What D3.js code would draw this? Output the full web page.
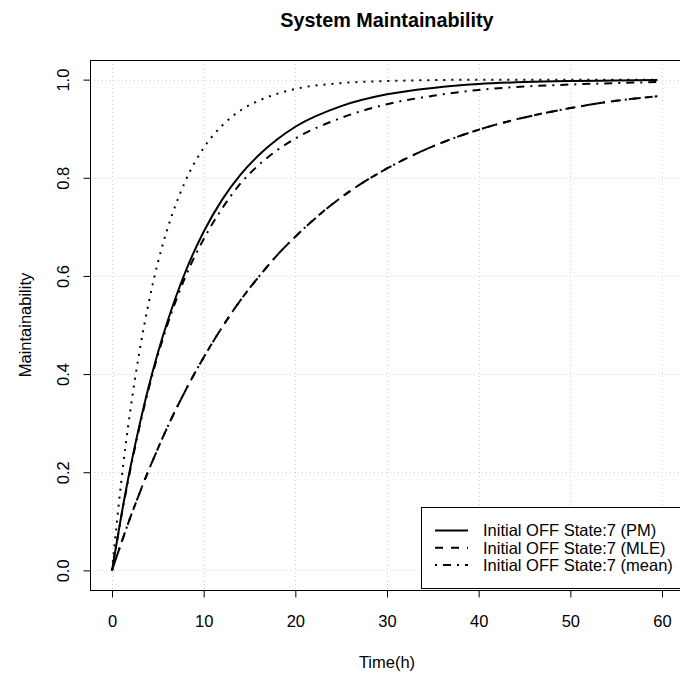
<!DOCTYPE html>
<html>
<head>
<meta charset="utf-8">
<script src="https://cdn.jsdelivr.net/npm/d3@7"></script>
<style>
  html, body { margin: 0; padding: 0; background: #fff; }
  svg { display: block; }
  text { font-family: "Liberation Sans", Arial, Helvetica, sans-serif; fill: #000; }
</style>
</head>
<body>
<svg id="chart" width="680" height="676"></svg>
<script>
// ---- data ----
const times = [0, 1, 2, 3, 4, 5, 6, 8, 10, 12, 14, 16, 18, 20, 25, 30, 35, 40, 45, 50, 55, 59.5];
// upper bound (dotted)
const upperDotted = [0, 0.179, 0.326, 0.446, 0.545, 0.627, 0.693, 0.793, 0.861, 0.906, 0.937, 0.957, 0.971, 0.981, 0.993, 0.997, 0.999, 1.0, 1.0, 1.0, 1.0, 1.0];
// PM (solid)
const pmValues = [0, 0.110, 0.209, 0.296, 0.374, 0.443, 0.504, 0.608, 0.690, 0.755, 0.806, 0.846, 0.878, 0.904, 0.946, 0.970, 0.983, 0.991, 0.995, 0.997, 0.998, 0.999];
// mean, upper curve (dot-dash)
const meanUpper = [0, 0.108, 0.205, 0.292, 0.370, 0.438, 0.498, 0.598, 0.675, 0.737, 0.788, 0.826, 0.856, 0.880, 0.922, 0.950, 0.967, 0.979, 0.986, 0.990, 0.993, 0.995];
// MLE (dashed), lower curve
const mleValues = [0, 0.055, 0.108, 0.157, 0.204, 0.248, 0.290, 0.366, 0.434, 0.495, 0.550, 0.598, 0.642, 0.680, 0.760, 0.819, 0.864, 0.898, 0.923, 0.942, 0.957, 0.966];
// mean, lower curve (dot-dash) overlapping MLE
const meanLower = [0, 0.055, 0.108, 0.157, 0.204, 0.248, 0.290, 0.366, 0.434, 0.495, 0.550, 0.598, 0.642, 0.680, 0.760, 0.819, 0.864, 0.898, 0.923, 0.942, 0.957, 0.966];

const xTicks = [0, 10, 20, 30, 40, 50, 60];
const yTicks = [0, 0.2, 0.4, 0.6, 0.8, 1.0];
const yTickLabels = ["0.0", "0.2", "0.4", "0.6", "0.8", "1.0"];
const legendLabels = ["Initial OFF State:7 (PM)", "Initial OFF State:7 (MLE)", "Initial OFF State:7 (mean)"];
const legendDash = ["none", "8,8", "2,6,8,6"];
const titleText = "System Maintainability";
const xLabel = "Time(h)";
const yLabel = "Maintainability";

// ---- layout ----
const plot = { left: 90, right: 684, top: 60, bottom: 590 };
const fs = 16.5;

const svg = d3.select("#chart");
const x = d3.scaleLinear().domain([-2.4, 62.4]).range([plot.left, plot.right]);
const y = d3.scaleLinear().domain([-0.04, 1.04]).range([plot.bottom, plot.top]);

// grid
const grid = svg.append("g").attr("stroke", "#d3d3d3").attr("stroke-width", 1).attr("stroke-dasharray", "1,3");
grid.selectAll("line.v").data(xTicks).join("line")
  .attr("x1", d => Math.round(x(d)) + 0.5).attr("x2", d => Math.round(x(d)) + 0.5)
  .attr("y1", plot.top).attr("y2", plot.bottom);
grid.selectAll("line.h").data(yTicks).join("line")
  .attr("y1", d => Math.round(y(d)) + 0.5).attr("y2", d => Math.round(y(d)) + 0.5)
  .attr("x1", plot.left).attr("x2", plot.right);

// curves
const series = [
  { values: upperDotted, dash: "2,6" },
  { values: pmValues, dash: "none" },
  { values: meanUpper, dash: "2,6,8,6" },
  { values: mleValues, dash: "8,8" },
  { values: meanLower, dash: "2,6,8,6" }
];
const line = d3.line().x(d => x(d[0])).y(d => y(d[1])).curve(d3.curveMonotoneX);
svg.append("g").selectAll("path").data(series).join("path")
  .attr("d", s => line(times.map((t, i) => [t, s.values[i]])))
  .attr("fill", "none").attr("stroke", "#000").attr("stroke-width", 2)
  .attr("stroke-dasharray", s => s.dash);

// box
svg.append("rect").attr("x", plot.left + 0.5).attr("y", plot.top + 0.5)
  .attr("width", plot.right - plot.left).attr("height", plot.bottom - plot.top)
  .attr("fill", "none").attr("stroke", "#000").attr("stroke-width", 1);

// x axis
const xAxis = d3.axisBottom(x).tickValues(xTicks).tickSize(7).tickSizeOuter(0).tickFormat(d3.format("d"));
const gx = svg.append("g").attr("transform", `translate(0,${plot.bottom + 0.5})`).call(xAxis);
gx.select(".domain").attr("d", `M${x(0)},0H${x(60)}`).attr("stroke", "#000");
gx.selectAll(".tick line").attr("stroke", "#000");
gx.selectAll(".tick text").attr("y", 0).attr("dy", 0)
  .attr("transform", "translate(0,36.5)")
  .style("font-size", fs + "px").attr("font-family", null);

// y axis
const yAxis = d3.axisLeft(y).tickValues(yTicks).tickSize(7).tickSizeOuter(0).tickFormat((d, i) => yTickLabels[i]);
const gy = svg.append("g").attr("transform", `translate(${plot.left + 0.5},0)`).call(yAxis);
gy.select(".domain").attr("d", `M0,${y(0)}V${y(1)}`).attr("stroke", "#000");
gy.selectAll(".tick line").attr("stroke", "#000");
gy.selectAll(".tick text").attr("x", 0).attr("dy", 0)
  .attr("text-anchor", "middle")
  .attr("transform", "translate(-21.5,0) rotate(-90)")
  .style("font-size", fs + "px").attr("font-family", null);

// titles
svg.append("text").attr("x", (plot.left + plot.right) / 2).attr("y", 26.5)
  .attr("text-anchor", "middle").style("font-size", "19.8px").style("font-weight", "bold").text(titleText);
svg.append("text").attr("x", (plot.left + plot.right) / 2).attr("y", 668)
  .attr("text-anchor", "middle").style("font-size", fs + "px").text(xLabel);
svg.append("text").attr("transform", `translate(31,${(plot.top + plot.bottom) / 2}) rotate(-90)`)
  .attr("text-anchor", "middle").style("font-size", fs + "px").text(yLabel);

// legend
const lg = svg.append("g");
lg.append("rect").attr("x", 421.5).attr("y", 507.5).attr("width", plot.right - 421).attr("height", plot.bottom - 507 - 2)
  .attr("fill", "#fff").attr("stroke", "#000").attr("stroke-width", 1);
const rows = lg.selectAll("g.row").data(legendLabels).join("g")
  .attr("transform", (d, i) => `translate(0,${530.5 + i * 17.3})`);
rows.append("line").attr("x1", 435).attr("x2", 468).attr("y1", 0).attr("y2", 0)
  .attr("stroke", "#000").attr("stroke-width", 2).attr("stroke-dasharray", (d, i) => legendDash[i]);
rows.append("text").attr("x", 483).attr("y", 5.8).style("font-size", fs + "px").text(d => d);
</script>
</body>
</html>
